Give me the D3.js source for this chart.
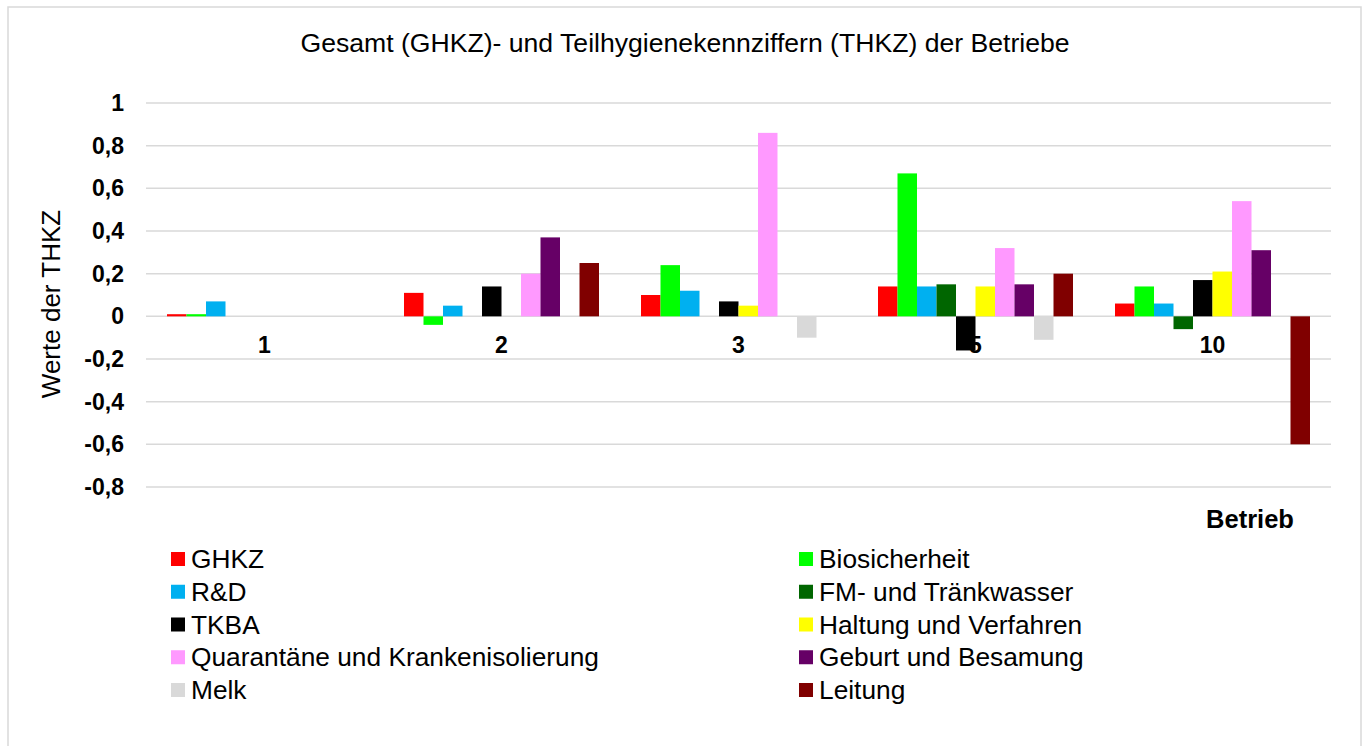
<!DOCTYPE html>
<html>
<head>
<meta charset="utf-8">
<script src="https://cdn.jsdelivr.net/npm/d3@7"></script>
<style>
  body { margin: 0; background: #fff; }
  text { font-family: "Liberation Sans", Arial, sans-serif; }
</style>
</head>
<body>
<svg id="chart" width="1365" height="746"></svg>
<script>
const betriebe = ["1", "2", "3", "5", "10"];
const seriesNames = ["GHKZ", "Biosicherheit", "R&D", "FM- und Tränkwasser", "TKBA",
  "Haltung und Verfahren", "Quarantäne und Krankenisolierung", "Geburt und Besamung", "Melk", "Leitung"];
const seriesColors = ["#ff0000", "#00ff00", "#00b0f0", "#006600", "#000000",
  "#ffff00", "#ff99ff", "#660066", "#d9d9d9", "#800000"];

// one array per series, values for Betrieb 1, 2, 3, 5, 10
const ghkz          = [0.01, 0.11, 0.10, 0.14, 0.06];
const biosicherheit = [0.01, -0.04, 0.24, 0.67, 0.14];
const rd            = [0.07, 0.05, 0.12, 0.14, 0.06];
const fmWasser      = [0, 0, 0, 0.15, -0.06];
const tkba          = [0, 0.14, 0.07, -0.16, 0.17];
const haltung       = [0, 0, 0.05, 0.14, 0.21];
const quarantaene   = [0, 0.20, 0.86, 0.32, 0.54];
const geburt        = [0, 0.37, 0, 0.15, 0.31];
const melk          = [0, 0, -0.10, -0.11, 0];
const leitung       = [0, 0.25, 0, 0.20, -0.60];

const seriesValues = [ghkz, biosicherheit, rd, fmWasser, tkba, haltung, quarantaene, geburt, melk, leitung];
const yTicks = [-0.8, -0.6, -0.4, -0.2, 0, 0.2, 0.4, 0.6, 0.8, 1];

const svg = d3.select("#chart");
const de = d3.formatLocale({ decimal: ",", thousands: ".", grouping: [3], currency: ["", " €"], minus: "-" });
const fmt = de.format("");

// frame
svg.append("rect")
  .attr("x", 8).attr("y", 7)
  .attr("width", 1353).attr("height", 760)
  .attr("fill", "#fff")
  .attr("stroke", "#d9d9d9")
  .attr("stroke-width", 1.5);

const x0 = d3.scaleBand()
  .domain(betriebe)
  .range([146, 1331]);

const x1 = d3.scaleBand()
  .domain(seriesNames)
  .range([21, x0.bandwidth() - 21]);

const y = d3.scaleLinear()
  .domain([-0.8, 1])
  .range([487, 103]);

// grid
svg.append("g")
  .selectAll("line")
  .data(yTicks)
  .enter()
  .append("line")
  .attr("x1", 146)
  .attr("x2", 1331)
  .attr("y1", d => y(d))
  .attr("y2", d => y(d))
  .attr("stroke", "#d9d9d9")
  .attr("stroke-width", 1.5);

// y tick labels
svg.append("g")
  .selectAll("text")
  .data(yTicks)
  .enter()
  .append("text")
  .attr("x", 124)
  .attr("y", d => y(d))
  .attr("dy", "0.35em")
  .attr("text-anchor", "end")
  .attr("font-size", 23)
  .attr("font-weight", "bold")
  .text(d => fmt(d));

// bars
const cells = [];
seriesValues.forEach((vals, si) => {
  vals.forEach((v, bi) => cells.push({ s: seriesNames[si], c: seriesColors[si], b: betriebe[bi], v: v }));
});

svg.append("g")
  .selectAll("rect")
  .data(cells.filter(d => d.v !== 0))
  .enter()
  .append("rect")
  .attr("x", d => x0(d.b) + x1(d.s))
  .attr("y", d => y(Math.max(0, d.v)))
  .attr("width", x1.bandwidth())
  .attr("height", d => Math.abs(y(d.v) - y(0)))
  .attr("fill", d => d.c);

// category labels
svg.append("g")
  .selectAll("text")
  .data(betriebe)
  .enter()
  .append("text")
  .attr("x", d => x0(d) + x0.bandwidth() / 2)
  .attr("y", 353)
  .attr("text-anchor", "middle")
  .attr("font-size", 23)
  .attr("font-weight", "bold")
  .text(d => d);

// titles
svg.append("text")
  .attr("x", 685).attr("y", 52)
  .attr("text-anchor", "middle")
  .attr("font-size", 26.6)
  .text("Gesamt (GHKZ)- und Teilhygienekennziffern (THKZ) der Betriebe");

svg.append("text")
  .attr("transform", "translate(60,304) rotate(-90)")
  .attr("text-anchor", "middle")
  .attr("font-size", 26)
  .text("Werte der THKZ");

svg.append("text")
  .attr("x", 1250).attr("y", 528)
  .attr("text-anchor", "middle")
  .attr("font-size", 25.5)
  .attr("font-weight", "bold")
  .text("Betrieb");

// legend, two columns
const legend = svg.append("g")
  .selectAll("g")
  .data(seriesNames)
  .enter()
  .append("g")
  .attr("transform", (d, i) => `translate(${i % 2 === 0 ? 171 : 799},${559 + Math.floor(i / 2) * 32.75})`);

legend.append("rect")
  .attr("x", 0).attr("y", -7)
  .attr("width", 14).attr("height", 14)
  .attr("fill", (d, i) => seriesColors[i]);

legend.append("text")
  .attr("x", 20).attr("y", 9)
  .attr("font-size", 26.3)
  .text(d => d);
</script>
</body>
</html>
